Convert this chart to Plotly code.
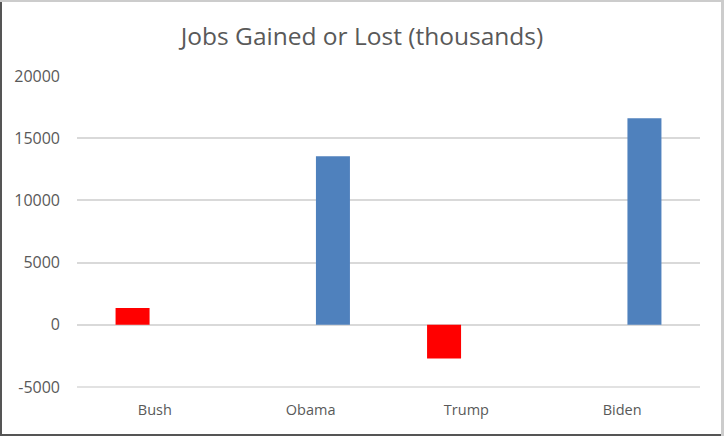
import plotly.graph_objects as go

categories = ["Bush", "Obama", "Trump", "Biden"]
republican_jobs = [1350, None, -2700, None]
democrat_jobs = [None, 13550, None, 16600]
y_ticks = [-5000, 0, 5000, 10000, 15000, 20000]

W, H = 724, 436
ML, MR, MT, MB = 77, 24, 76, 49
text_color = "#595959"
grid_color = "#D9D9D9"
font_family = "Open Sans, Lato, sans-serif"

fig = go.Figure()
fig.add_trace(go.Bar(x=categories, y=republican_jobs, name="Republican",
                     marker=dict(color="#FF0000", line=dict(width=0))))
fig.add_trace(go.Bar(x=categories, y=democrat_jobs, name="Democrat",
                     marker=dict(color="#4F81BD", line=dict(width=0))))

pw = W - ML - MR
ph = H - MT - MB
fig.update_layout(
    width=W, height=H,
    margin=dict(l=ML, r=MR, t=MT, b=MB),
    paper_bgcolor="white", plot_bgcolor="white",
    barmode="group", bargap=0.427, bargroupgap=0.238,
    showlegend=False,
    font=dict(family=font_family, color=text_color),
    title=dict(text="Jobs Gained or Lost (thousands)", x=0.5, xanchor="center",
               xref="container", yref="container", y=1 - 36 / H, yanchor="middle",
               font=dict(size=24.5, color=text_color, family=font_family)),
    xaxis=dict(showgrid=False, showline=False, zeroline=False, ticks="",
               tickfont=dict(size=14.5, color=text_color), ticklabelstandoff=12),
    yaxis=dict(range=[y_ticks[0], y_ticks[-1]], tickvals=y_ticks,
               ticktext=[str(v) for v in y_ticks],
               showgrid=True, gridcolor=grid_color, gridwidth=1.5,
               zeroline=True, zerolinecolor=grid_color, zerolinewidth=1.5,
               showline=False, ticks="", tickfont=dict(size=16, color=text_color),
               ticklabelstandoff=16),
)

# bottom gridline (plotly hides grid lines that sit on the plot edge)
fig.add_shape(type="line", xref="paper", yref="paper", x0=0, x1=1,
              y0=0, y1=0, layer="below",
              line=dict(color=grid_color, width=1.5))

# outer frame of the chart image
def px_x(p):
    return (p - ML) / pw
def px_y(p):
    return (H - MB - p) / ph

fig.add_shape(type="line", xref="paper", yref="paper", x0=px_x(1), x1=px_x(1),
              y0=px_y(0), y1=px_y(H), line=dict(color="#555555", width=2))
fig.add_shape(type="line", xref="paper", yref="paper", x0=px_x(0), x1=px_x(W),
              y0=px_y(H - 1), y1=px_y(H - 1), line=dict(color="#555555", width=2))
fig.add_shape(type="line", xref="paper", yref="paper", x0=px_x(0), x1=px_x(W),
              y0=px_y(1), y1=px_y(1), line=dict(color="#CCCCCC", width=2))
fig.add_shape(type="line", xref="paper", yref="paper", x0=px_x(W - 1.5), x1=px_x(W - 1.5),
              y0=px_y(0), y1=px_y(H), line=dict(color="#CCCCCC", width=3))

fig.write_html("out.html", config={"displayModeBar": False},
               post_script="document.body.style.margin='0px';")
